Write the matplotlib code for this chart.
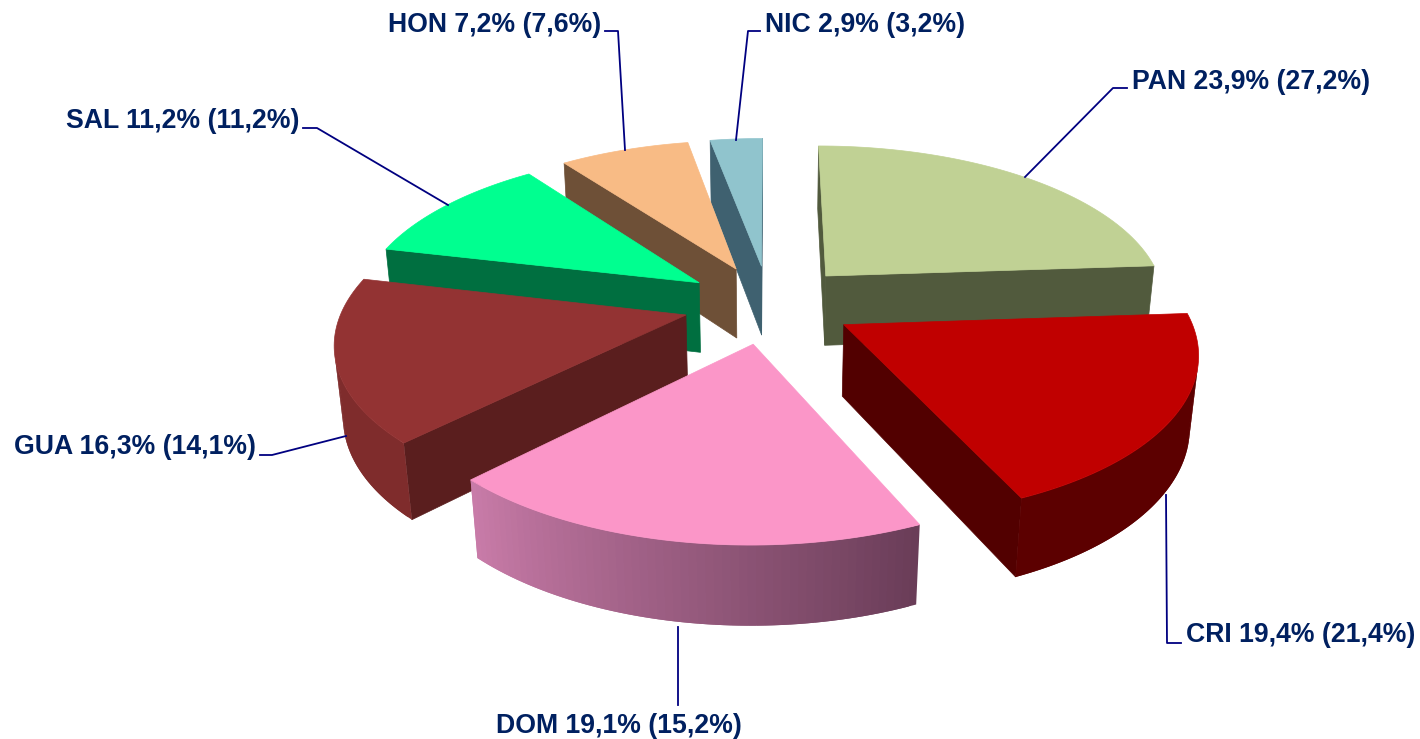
import numpy as np
import matplotlib
matplotlib.use("Agg")
import matplotlib.pyplot as plt
from matplotlib.colors import to_rgb
from matplotlib.patches import Polygon

names = ["PAN", "CRI", "DOM", "GUA", "SAL", "HON", "NIC"]
shares = [23.9, 19.4, 19.1, 16.3, 11.2, 7.2, 2.9]
previous = [27.2, 21.4, 15.2, 14.1, 11.2, 7.6, 3.2]

top_colors = ["#c0d194", "#c00000", "#fb96c8", "#933333", "#00ff90", "#f8bb85", "#90c4cd"]
cut_colors = ["#515a3d", "#520000", "#6a3d58", "#5a1e1e", "#006f40", "#6e5037", "#3f6170"]
wall_colors = [("#77805f", "#515a3d"), ("#5c0000", "#5c0000"), ("#6a3d58", "#c87ba8"),
               ("#7f2c2c", "#7f2c2c"), ("#006f40", "#006f40"), ("#6e5037", "#6e5037"),
               ("#3f6170", "#3f6170")]

# drawing order, back slices first
order = [6, 5, 4, 0, 3, 1, 2]

# label text position (x, y, ha) and leader line, in picture pixels
label_pos = [(1132, 82, "left"), (1186, 635, "left"), (619, 726, "center"), (256, 447, "right"),
             (300, 121, "right"), (601, 25, "right"), (765, 25, "left")]
leaders = [[(1025, 177), (1113, 88), (1127, 88)],
           [(1166, 495), (1167, 643), (1181, 643)],
           [(678, 627), (678, 705)],
           [(346, 436), (272, 455), (260, 455)],
           [(448, 205), (317, 128), (303, 128)],
           [(625, 150), (618, 31), (605, 31)],
           [(736, 140), (748, 31), (760, 31)]]

cx, cy = 769, 304
radius = 342
tilt = 0.46
persp = 0.15
explode = 0.25
height = 72
persp_z = 0.02


def project(u, v, z):
    w = 1 + persp * v + persp_z * z
    return cx + radius * u / w, cy - radius * tilt * v / w + height * z / w


def area(pts):
    x, y = np.array(pts).T
    return 0.5 * np.sum(x * np.roll(y, -1) - np.roll(x, -1) * y)


fig = plt.figure(figsize=(14.2, 7.39), dpi=100)
ax = fig.add_axes([0, 0, 1, 1])
ax.set_xlim(0, 1420)
ax.set_ylim(739, 0)
ax.axis("off")

edges = np.radians(np.concatenate([[0], np.cumsum(shares)]) * 3.6)

for i in order:
    a0, a1 = edges[i], edges[i + 1]
    mid = (a0 + a1) / 2
    ou, ov = explode * np.sin(mid), explode * np.cos(mid)
    ang = np.linspace(a0, a1, 60)
    us = ou + np.sin(ang)
    vs = ov + np.cos(ang)

    def face(points, color, lw=0.5):
        # only faces looking at the camera get drawn
        if area(points) > 0:
            ax.add_patch(Polygon(points, closed=True, fc=color, ec=color, lw=lw))

    apex_t = project(ou, ov, 0)
    apex_b = project(ou, ov, 1)
    # the two cut faces
    face([apex_t, apex_b, project(us[0], vs[0], 1), project(us[0], vs[0], 0)], cut_colors[i])
    face([apex_b, apex_t, project(us[-1], vs[-1], 0), project(us[-1], vs[-1], 1)], cut_colors[i])
    # outer wall, shaded strip by strip; each strip runs under the next so no seams show
    c0, c1 = np.array(to_rgb(wall_colors[i][0])), np.array(to_rgb(wall_colors[i][1]))
    for j in range(len(ang) - 1):
        t = j / (len(ang) - 2)
        k = min(j + 2, len(ang) - 1)
        face([project(us[j], vs[j], 0), project(us[j], vs[j], 1),
              project(us[k], vs[k], 1), project(us[k], vs[k], 0)],
             tuple(c0 + (c1 - c0) * t), lw=0)
    # top
    top = [apex_t] + [project(a, b, 0) for a, b in zip(us, vs)]
    ax.add_patch(Polygon(top, closed=True, fc=top_colors[i], ec=top_colors[i], lw=0.5))

for i, name in enumerate(names):
    xs, ys = zip(*leaders[i])
    ax.plot(xs, ys, color="#000080", lw=1.3)
    txt = f"{name} {shares[i]:.1f}% ({previous[i]:.1f}%)".replace(".", ",")
    ax.text(label_pos[i][0], label_pos[i][1], txt, ha=label_pos[i][2], va="center",
            family="Liberation Sans", weight="bold", fontsize=19.2, color="#002060")

fig.savefig("out.png", dpi=100, facecolor="white")
